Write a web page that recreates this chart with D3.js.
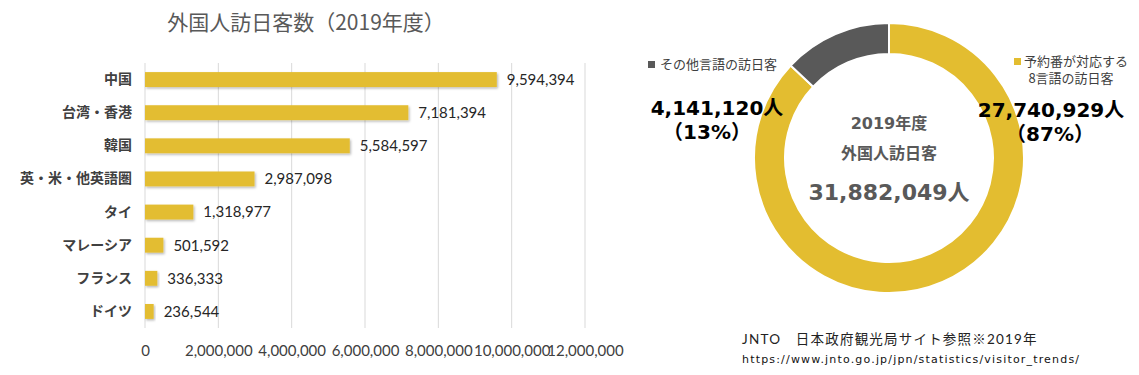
<!DOCTYPE html>
<html><head><meta charset="utf-8">
<script src="https://cdn.jsdelivr.net/npm/d3@7"></script>
<style>
html,body{margin:0;padding:0;background:#fff;}
svg{display:block;}
</style></head>
<body>
<svg id="chart" width="1139" height="375"></svg>
<script>
// ---- data ----
const categories = ["中国","台湾・香港","韓国","英・米・他英語圏","タイ","マレーシア","フランス","ドイツ"];
const visitors = [9594394,7181394,5584597,2987098,1318977,501592,336333,236544];
const tickValues = [0,2000000,4000000,6000000,8000000,10000000,12000000];
const donutLabels = ["予約番が対応する8言語の訪日客","その他言語の訪日客"];
const donutValues = [27740929,4141120];
const donutPercents = ["87%","13%"];
const totalVisitors = 31882049;

const YELLOW = "#E3BD30", DARK = "#595959";
const svg = d3.select("#chart");
const fmt = d3.format(",");
const latin = "Lato, 'Noto Sans CJK JP', sans-serif";
const cjk = "'Noto Sans CJK JP', sans-serif";
const verd = "'DejaVu Sans', 'Noto Sans CJK JP', sans-serif";

const defs = svg.append("defs");
const f = defs.append("filter").attr("id","sh").attr("x","-10%").attr("y","-30%").attr("width","130%").attr("height","180%");
f.append("feDropShadow").attr("dx",1.2).attr("dy",1.5).attr("stdDeviation",1).attr("flood-color","#000").attr("flood-opacity",0.28);

// ---- bar chart ----
svg.append("text").attr("x",306).attr("y",30).attr("text-anchor","middle")
  .attr("font-family",cjk).attr("font-size",21).attr("fill","#595959").text("外国人訪日客数（2019年度）");

const x = d3.scaleLinear().domain([0,12000000]).range([145,585]);
const y = d3.scaleBand().domain(categories).range([63,328]).paddingInner(0.55).paddingOuter(0.275);

const grid = svg.append("g");
grid.selectAll("line").data(tickValues).join("line")
  .attr("x1",d=>x(d)).attr("x2",d=>x(d)).attr("y1",63).attr("y2",328)
  .attr("stroke","#d9d9d9").attr("stroke-width",1);

const xAxis = svg.append("g").attr("transform","translate(0,345)")
  .call(d3.axisBottom(x).tickValues(tickValues).tickFormat(fmt).tickSize(0).tickPadding(0));
xAxis.select(".domain").remove();
xAxis.selectAll("text").attr("font-family",latin).attr("font-size",15).attr("fill","#404040").attr("dy","0.71em");

const yAxis = svg.append("g").attr("transform","translate(132,0)")
  .call(d3.axisLeft(y).tickSize(0).tickPadding(0));
yAxis.select(".domain").remove();
yAxis.selectAll("text").attr("font-family",cjk).attr("font-size",14).attr("font-weight",700).attr("fill","#404040");

svg.append("g").selectAll("rect").data(visitors).join("rect")
  .attr("x",x(0)).attr("y",(d,i)=>y(categories[i]))
  .attr("width",d=>x(d)-x(0)).attr("height",y.bandwidth())
  .attr("fill",YELLOW).attr("filter","url(#sh)");

svg.append("g").selectAll("text").data(visitors).join("text")
  .attr("x",d=>x(d)+10).attr("y",(d,i)=>y(categories[i])+y.bandwidth()/2)
  .attr("dy","0.36em").attr("font-family",latin).attr("font-size",15).attr("fill","#262626")
  .text(d=>fmt(d));

// ---- donut ----
const cx = 889, cy = 158, R = 135, r = 104;
const pie = d3.pie().sort(null).value(d=>d);
const arc = d3.arc().innerRadius(r).outerRadius(R);
const dg = svg.append("g").attr("transform",`translate(${cx},${cy})`);
dg.selectAll("path").data(pie(donutValues)).join("path")
  .attr("d",arc).attr("fill",(d,i)=>i===0?YELLOW:DARK).attr("stroke","#fff").attr("stroke-width",2);

// center texts
svg.append("text").attr("x",cx).attr("y",129).attr("text-anchor","middle")
  .attr("font-family",verd).attr("font-weight",700).attr("font-size",16).attr("fill","#595959").text("2019年度");
svg.append("text").attr("x",cx).attr("y",159).attr("text-anchor","middle")
  .attr("font-family",cjk).attr("font-weight",700).attr("font-size",16).attr("fill","#595959").text("外国人訪日客");
svg.append("text").attr("x",cx).attr("y",200).attr("text-anchor","middle")
  .attr("font-family",verd).attr("font-weight",700).attr("font-size",22).attr("fill","#595959").text(fmt(totalVisitors)+"人");

// big value labels
const big = [
  {v:donutValues[1], p:donutPercents[1], x:717, px:707, y:115},
  {v:donutValues[0], p:donutPercents[0], x:1051, px:1050, y:117}
];
big.forEach(b=>{
  svg.append("text").attr("x",b.x).attr("y",b.y).attr("text-anchor","middle")
    .attr("font-family",verd).attr("font-weight",700).attr("font-size",20).attr("fill","#000").text(fmt(b.v)+"人");
  svg.append("text").attr("x",b.px).attr("y",b.y+24).attr("text-anchor","middle")
    .attr("font-family",verd).attr("font-weight",700).attr("font-size",20).attr("fill","#000").text("（"+b.p+"）");
});

// legend
svg.append("rect").attr("x",648).attr("y",61).attr("width",7).attr("height",7).attr("fill",DARK);
svg.append("text").attr("x",660).attr("y",69).attr("font-family",cjk).attr("font-size",13).attr("fill","#404040").text(donutLabels[1]);
svg.append("rect").attr("x",1014).attr("y",58).attr("width",7).attr("height",7).attr("fill",YELLOW);
svg.append("text").attr("x",1024).attr("y",66).attr("font-family",cjk).attr("font-size",13).attr("fill","#404040").text(donutLabels[0].slice(0,8));
svg.append("text").attr("x",1071).attr("y",83).attr("text-anchor","middle").attr("font-family",cjk).attr("font-size",13).attr("fill","#404040").text(donutLabels[0].slice(8));

// source
svg.append("text").attr("x",742).attr("y",344).attr("font-family",latin).attr("font-size",13.5).attr("letter-spacing",1.2).attr("fill","#222").text("JNTO　日本政府観光局サイト参照※2019年");
svg.append("text").attr("x",742).attr("y",363).attr("font-family","'DejaVu Sans', sans-serif").attr("font-size",11).attr("fill","#111").attr("textLength",337).attr("lengthAdjust","spacing").text("https://www.jnto.go.jp/jpn/statistics/visitor_trends/");
</script>
</body></html>
